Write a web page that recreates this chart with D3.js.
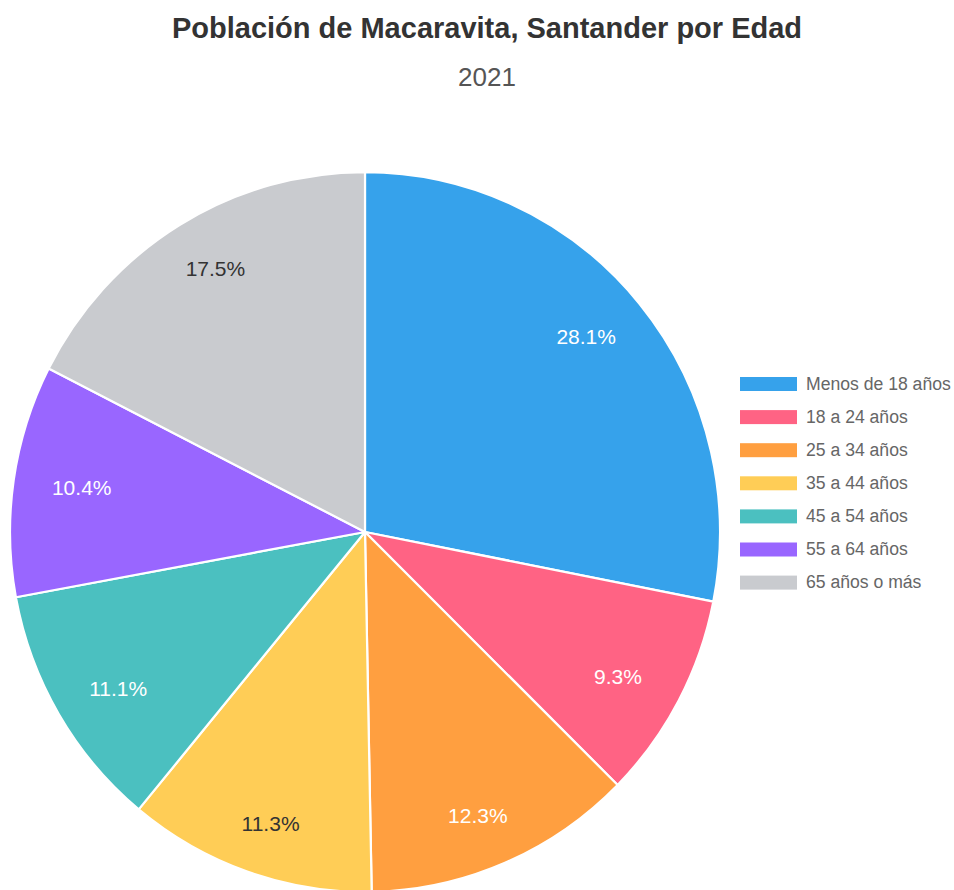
<!DOCTYPE html>
<html lang="es">
<head>
<meta charset="utf-8">
<title>Población de Macaravita, Santander por Edad</title>
<script src="https://cdn.jsdelivr.net/npm/d3@7"></script>
<style>
  html, body { margin: 0; padding: 0; background: #ffffff; }
  svg { display: block; font-family: "Liberation Sans", Arial, Helvetica, sans-serif; }
</style>
</head>
<body>
<svg id="chart" width="954" height="890"></svg>
<script>
// Age groups and their share of the population (%)
const categories = ["Menos de 18 años", "18 a 24 años", "25 a 34 años", "35 a 44 años", "45 a 54 años", "55 a 64 años", "65 años o más"];
const values = [28.1, 9.3, 12.3, 11.3, 11.1, 10.4, 17.5];
const colors = ["#36A2EB", "#FF6384", "#FF9F40", "#FFCD56", "#4BC0C0", "#9966FF", "#C9CBCF"];
const titleText = "Población de Macaravita, Santander por Edad";
const subtitleText = "2021";

const svg = d3.select("#chart");
const width = 954;

const data = categories.map((c, i) => ({ category: c, value: values[i] }));

// Title and subtitle
svg.append("text")
  .attr("x", 487).attr("y", 38)
  .attr("text-anchor", "middle")
  .attr("font-size", 29).attr("font-weight", "bold")
  .attr("fill", "#333333")
  .text(titleText);

svg.append("text")
  .attr("x", 487).attr("y", 86)
  .attr("text-anchor", "middle")
  .attr("font-size", 26)
  .attr("fill", "#555555")
  .text(subtitleText);

// Pie
const cx = 365, cy = 532, radius = 355, stretchY = 1.014;
const color = d3.scaleOrdinal().domain(categories).range(colors);
const pie = d3.pie().value(d => d.value).sort(null);
const arcs = pie(data);
const arc = d3.arc().innerRadius(0).outerRadius(radius);

const pieG = svg.append("g")
  .attr("transform", `translate(${cx},${cy}) scale(1,${stretchY})`);

pieG.selectAll("path")
  .data(arcs)
  .join("path")
  .attr("d", arc)
  .attr("fill", d => color(d.data.category))
  .attr("stroke", "#ffffff")
  .attr("stroke-width", 2.2)
  .attr("stroke-linejoin", "round");

// Percentage labels inside each slice
const labelR = radius * 0.84;
const labelArc = d3.arc().innerRadius(labelR).outerRadius(labelR);
const labelScaleX = 0.96, labelScaleY = 1.035;

svg.append("g")
  .selectAll("text")
  .data(arcs)
  .join("text")
  .attr("x", d => cx + labelArc.centroid(d)[0] * labelScaleX)
  .attr("y", d => cy + labelArc.centroid(d)[1] * labelScaleY)
  .attr("dy", "0.36em")
  .attr("text-anchor", "middle")
  .attr("font-size", 21)
  .attr("fill", d => (d.data.category === "35 a 44 años" || d.data.category === "65 años o más") ? "#333333" : "#ffffff")
  .text(d => d.data.value.toFixed(1) + "%");

// Legend
const legend = svg.append("g").attr("transform", "translate(740,384)");
const rowH = 33.1;
const rows = legend.selectAll("g")
  .data(categories)
  .join("g")
  .attr("transform", (d, i) => `translate(0,${i * rowH})`);

rows.append("rect")
  .attr("x", 0).attr("y", -7)
  .attr("width", 57).attr("height", 14)
  .attr("fill", d => color(d));

rows.append("text")
  .attr("x", 66).attr("y", 0)
  .attr("dy", "0.33em")
  .attr("font-size", 17.6)
  .attr("fill", "#666666")
  .text(d => d);
</script>
</body>
</html>
